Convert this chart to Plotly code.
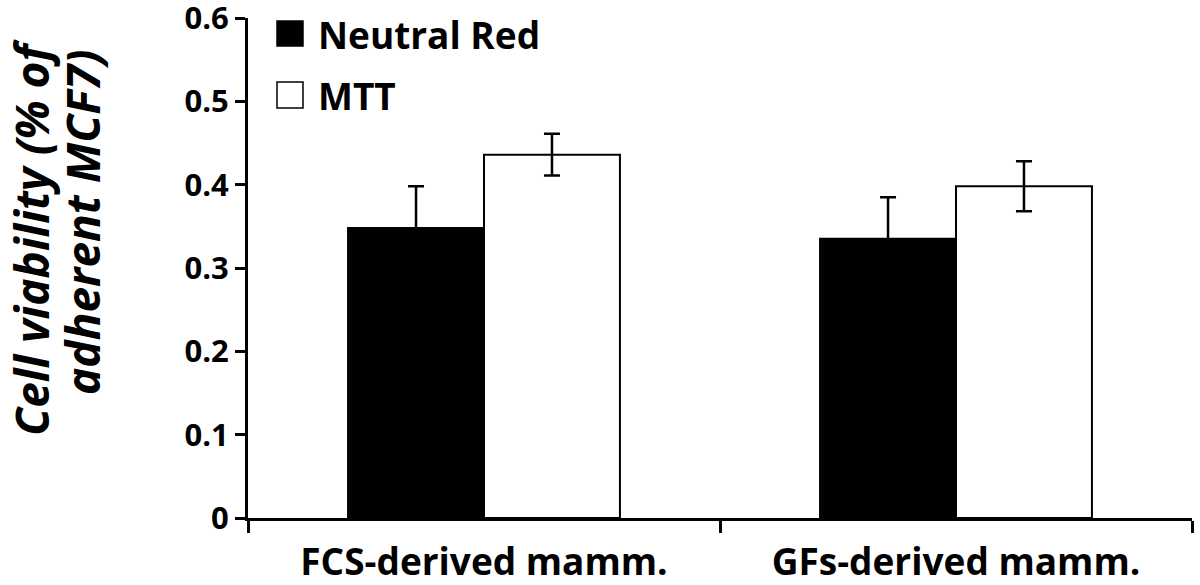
import plotly.graph_objects as go

categories = ["FCS-derived mamm.", "GFs-derived mamm."]
neutral_red = [0.348, 0.335]
neutral_red_err = [0.050, 0.050]
mtt = [0.436, 0.398]
mtt_err = [0.025, 0.030]
y_ticks = [0, 0.1, 0.2, 0.3, 0.4, 0.5, 0.6]
y_tick_labels = ["0", "0.1", "0.2", "0.3", "0.4", "0.5", "0.6"]
legend_names = ["Neutral Red", "MTT"]
y_title_lines = ["Cell viability (% of", "adherent MCF7)"]

FONT = "Open Sans"
L, T, PW, PH = 248, 18, 944, 500


def px(x):
    return (x - L) / PW


def py(y):
    return (T + PH - y) / PH


fig = go.Figure()
fig.add_trace(go.Bar(
    x=categories, y=neutral_red, name=legend_names[0],
    marker=dict(color="black", line=dict(color="black", width=2)),
    error_y=dict(type="data", array=neutral_red_err, color="black", thickness=2.5, width=8),
    showlegend=False,
))
fig.add_trace(go.Bar(
    x=categories, y=mtt, name=legend_names[1],
    marker=dict(color="white", line=dict(color="black", width=2)),
    error_y=dict(type="data", array=mtt_err, color="black", thickness=2.5, width=8),
    showlegend=False,
))

# legend drawn manually (large square swatches)
fig.add_shape(type="rect", xref="paper", yref="paper",
              x0=px(277), x1=px(303), y0=py(46), y1=py(21),
              fillcolor="black", line=dict(color="black", width=1.5))
fig.add_shape(type="rect", xref="paper", yref="paper",
              x0=px(277), x1=px(303), y0=py(108), y1=py(82),
              fillcolor="white", line=dict(color="black", width=1.5))
fig.add_annotation(xref="paper", yref="paper", x=px(316), y=py(34),
                   text="<b>%s</b>" % legend_names[0], showarrow=False,
                   xanchor="left", yanchor="middle", font=dict(family=FONT, size=37, color="black"))
fig.add_annotation(xref="paper", yref="paper", x=px(316), y=py(95),
                   text="<b>%s</b>" % legend_names[1], showarrow=False,
                   xanchor="left", yanchor="middle", font=dict(family=FONT, size=37, color="black"))

# y-axis title (two lines)
for txt, cx, cy in zip(y_title_lines, [31, 82], [238, 222]):
    fig.add_annotation(xref="paper", yref="paper", x=px(cx), y=py(cy),
                       text="<b><i>%s</i></b>" % txt,
                       showarrow=False, textangle=-90, xanchor="center", yanchor="middle",
                       font=dict(family=FONT, size=46, color="black"))

fig.update_layout(
    width=1200, height=585,
    margin=dict(l=L, r=1200 - L - PW, t=T, b=585 - T - PH, autoexpand=False),
    paper_bgcolor="white", plot_bgcolor="white",
    barmode="group", bargap=0.424, bargroupgap=0,
    font=dict(family=FONT, color="black"),
)
fig.update_xaxes(
    showline=True, linecolor="black", linewidth=2.5,
    ticks="outside", tickson="boundaries", ticklen=12, tickwidth=2.5, tickcolor="black",
    tickfont=dict(family=FONT, size=37, color="black", weight="bold"),
    ticklabelstandoff=10,
    showgrid=False, zeroline=False, automargin=False,
)
fig.update_yaxes(
    range=[0, 0.6], showline=True, linecolor="black", linewidth=3,
    ticks="outside", ticklen=10, tickwidth=3, tickcolor="black",
    tickvals=y_ticks, ticktext=y_tick_labels,
    tickfont=dict(family=FONT, size=31, color="black", weight="bold"),
    showgrid=False, zeroline=False, automargin=False, ticklabeloverflow="allow",
)

fig.write_html("out.html", config={"displayModeBar": False},
               post_script="document.body.style.margin='0';document.body.style.overflow='hidden';")
